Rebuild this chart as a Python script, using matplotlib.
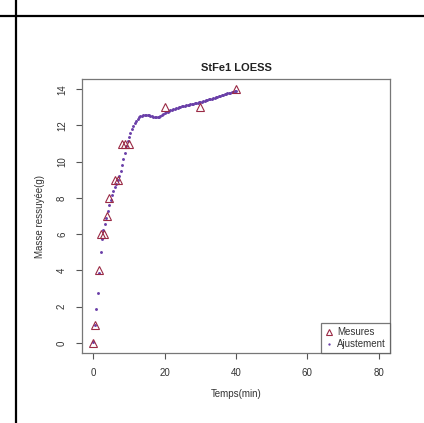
import numpy as np
import matplotlib
matplotlib.use("Agg")
import matplotlib.pyplot as plt
from matplotlib.lines import Line2D

plt.rcParams['font.family'] = ['Liberation Sans', 'DejaVu Sans']

# measured mass vs time
temps = [0, 0.5, 1.5, 2, 3, 3.75, 4.5, 6, 7, 8, 9, 10, 20, 30, 40]
masse = [0, 1, 4, 6, 6, 7, 8, 9, 9, 11, 11, 11, 13, 13, 14]

# LOESS fit evaluated on a 0.4 min grid
fit_t = np.linspace(0, 40, 101)
fit_y = [0.05, 1.0, 1.85, 2.75, 3.85, 5.0, 5.75, 6.2, 6.55, 6.9,
         7.25, 7.6, 7.9, 8.15, 8.38, 8.58, 8.78, 8.98, 9.2, 9.48,
         9.8, 10.15, 10.5, 10.85, 11.12, 11.35, 11.58, 11.8, 11.98, 12.13,
         12.26, 12.36, 12.44, 12.5, 12.54, 12.56, 12.57, 12.57, 12.56, 12.55,
         12.53, 12.51, 12.49, 12.48, 12.47, 12.47, 12.48, 12.52, 12.57, 12.62,
         12.67, 12.72, 12.76, 12.8, 12.84, 12.87, 12.9, 12.93, 12.96, 12.98,
         13.01, 13.03, 13.05, 13.07, 13.09, 13.11, 13.13, 13.14, 13.16, 13.18,
         13.19, 13.21, 13.23, 13.25, 13.27, 13.29, 13.31, 13.34, 13.36, 13.38,
         13.41, 13.43, 13.46, 13.48, 13.51, 13.53, 13.56, 13.58, 13.61, 13.63,
         13.66, 13.68, 13.71, 13.73, 13.76, 13.78, 13.81, 13.83, 13.86, 13.88,
         13.91]

xticks = [0, 20, 40, 60, 80]
yticks = [0, 2, 4, 6, 8, 10, 12, 14]

tri_col = '#9a2a45'
fit_col = '#6a3fa8'
txt_col = '#333333'

fig = plt.figure(figsize=(4.24, 4.23), dpi=100)

# table cell borders around the figure
fig.add_artist(Line2D([0, 1], [1 - 16.5 / 423] * 2, color='black', lw=1.6,
                      transform=fig.transFigure))
fig.add_artist(Line2D([16 / 424] * 2, [0, 1], color='black', lw=1.6,
                      transform=fig.transFigure))

ax = fig.add_axes([82 / 424, 1 - 353 / 423, 308 / 424, 274 / 423])

ax.plot(fit_t, fit_y, linestyle='none', marker='o', markersize=2.1,
        color=fit_col, markeredgewidth=0, label='Ajustement')
ax.plot(temps, masse, linestyle='none', marker='^', markersize=5.5,
        markerfacecolor='none', markeredgecolor=tri_col, markeredgewidth=0.8,
        label='Mesures')

ax.set_xlim(-3.2, 83.2)
ax.set_ylim(-0.56, 14.56)
ax.set_xticks(xticks)
ax.set_yticks(yticks)
ax.tick_params(axis='both', direction='out', length=4.3, width=0.8,
               color='#555555', labelsize=7, labelcolor=txt_col, pad=6.5)
for lab in ax.get_yticklabels():
    lab.set_rotation(90)
    lab.set_va('center')

for sp in ax.spines.values():
    sp.set_color('#777777')
    sp.set_linewidth(0.9)

ax.set_title('StFe1 LOESS', fontsize=8, fontweight='bold', color='#222222', pad=6)
ax.set_xlabel('Temps(min)', fontsize=7, color=txt_col, labelpad=7.7)
ax.set_ylabel('Masse ressuyée(g)', fontsize=7, color=txt_col, labelpad=8.4)

handles, labels = ax.get_legend_handles_labels()
leg = ax.legend(handles[::-1], labels[::-1], loc='lower right', fontsize=7,
                frameon=True, fancybox=False, borderaxespad=0,
                handlelength=0.8, handletextpad=0.5, borderpad=0.4,
                labelspacing=0.2, markerscale=0.8)
leg.get_frame().set_edgecolor('#555555')
leg.get_frame().set_linewidth(0.9)
for t in leg.get_texts():
    t.set_color(txt_col)

fig.savefig('out.png', dpi=100)
